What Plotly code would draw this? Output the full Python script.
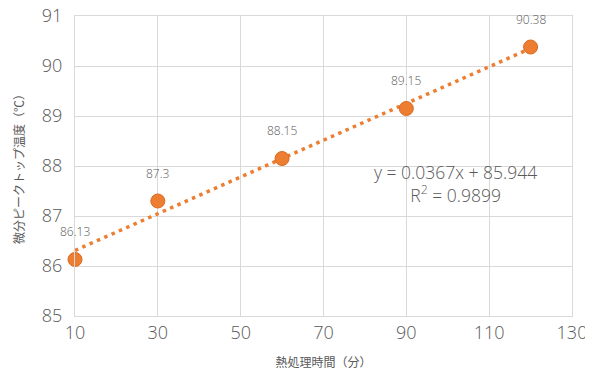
import numpy as np
import plotly.graph_objects as go

time_min = [10, 30, 60, 90, 120]
peak_temp = [86.13, 87.3, 88.15, 89.15, 90.38]
label_text = ["86.13", "87.3", "88.15", "89.15", "90.38"]
x_ticks = [10, 30, 50, 70, 90, 110, 130]
y_ticks = [85, 86, 87, 88, 89, 90, 91]

orange = "#ED7D31"
gray = "#595959"
grid = "#D9D9D9"
font_fam = "Open Sans, Noto Sans CJK JP, sans-serif"

slope, intercept = np.polyfit(time_min, peak_temp, 1)
pred = np.polyval([slope, intercept], time_min)
r2 = 1 - np.sum((np.array(peak_temp) - pred) ** 2) / np.sum((np.array(peak_temp) - np.mean(peak_temp)) ** 2)
trend_x = [min(time_min), max(time_min)]
trend_y = list(np.polyval([slope, intercept], trend_x))

fig = go.Figure()
fig.add_trace(go.Scatter(x=trend_x, y=trend_y, mode="lines",
                         line=dict(color=orange, width=3.5, dash="3.5px,4.5px"),
                         hoverinfo="skip", showlegend=False))
fig.add_trace(go.Scatter(x=time_min, y=peak_temp, mode="markers",
                         marker=dict(color=orange, size=14, line=dict(color="#D86A20", width=1)),
                         cliponaxis=False, showlegend=False))

for xv, yv, t in zip(time_min, peak_temp, label_text):
    fig.add_annotation(x=xv, y=yv, text=t, showarrow=False, yshift=28,
                       font=dict(size=12, color=gray, family=font_fam, weight=300))

fig.add_annotation(x=0.765, y=0.443, xref="paper", yref="paper", xanchor="center", yanchor="middle",
                   text=f"y = {slope:.4f}x + {intercept:.3f}<br>R<sup>2</sup> = {r2:.4f}",
                   showarrow=False, align="center",
                   font=dict(size=17.5, color=gray, family=font_fam, weight=300))

# page body has an 8px default margin, so the figure is sized/offset to compensate
fig.update_layout(
    width=585, height=364,
    margin=dict(l=67, r=21, t=8, b=56),
    paper_bgcolor="white", plot_bgcolor="white",
    font=dict(family=font_fam, color=gray),
    xaxis=dict(range=[10, 130], tickvals=x_ticks, showgrid=True, gridcolor=grid, gridwidth=1,
               zeroline=False, showline=True, linecolor=grid, mirror=True, automargin=False,
               tickfont=dict(size=18, color=gray, weight=300), ticks="", ticklabeloverflow="allow",
               title=dict(text="熱処理時間（分）", font=dict(size=12, color=gray), standoff=16)),
    yaxis=dict(range=[85, 91], tickvals=y_ticks, showgrid=True, gridcolor=grid, gridwidth=1,
               zeroline=False, showline=True, linecolor=grid, mirror=True, automargin=False,
               tickfont=dict(size=18, color=gray, weight=300), ticks="", ticklabelstandoff=8,
               ticklabeloverflow="allow",
               title=dict(text="微分ピークトップ温度（℃）", font=dict(size=12, color=gray), standoff=14)),
)

fig.write_html("out.html")
